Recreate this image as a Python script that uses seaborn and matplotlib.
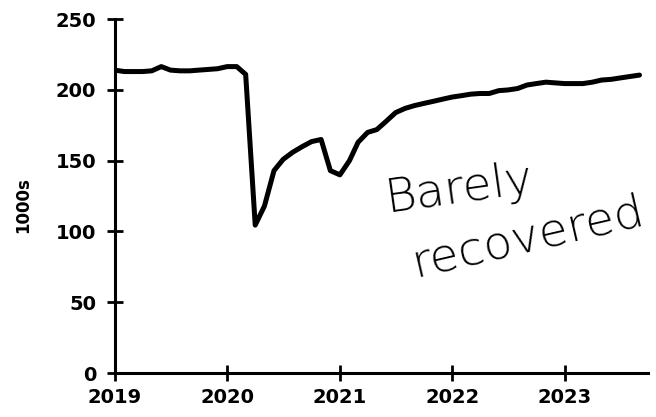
import matplotlib
matplotlib.use("Agg")
import matplotlib.pyplot as plt
import seaborn as sns
import pandas as pd

values = [
    214, 213, 213, 213, 213.5, 216.5, 214, 213.5, 213.5, 214, 214.5, 215,
    216.5, 216.5, 211, 104.5, 118, 143, 151, 156, 160, 163.5, 165, 143,
    140, 150, 163, 170, 172, 178, 184, 187, 189, 190.5, 192, 193.5,
    195, 196, 197, 197.5, 197.5, 199.5, 200, 201, 203.5, 204.5, 205.5, 205,
    204.5, 204.5, 204.5, 205.5, 207, 207.5, 208.5, 209.5, 210.5,
]
start_month = "2019-01-01"
year_ticks = ["2019", "2020", "2021", "2022", "2023"]
y_ticks = [0, 50, 100, 150, 200, 250]
y_label = "1000s"
note_1 = "Barely"
note_2 = "recovered"

dates = pd.date_range(start_month, periods=len(values), freq="MS")
df = pd.DataFrame({"date": dates, "value": values})

sns.set_theme(style="white")
plt.rcParams["font.family"] = ["DejaVu Sans"]
plt.rcParams["text.color"] = "black"
plt.rcParams["axes.labelcolor"] = "black"

fig = plt.figure(figsize=(6.56, 4.17), dpi=100)
ax = fig.add_axes([0.175, 0.1055, 0.813, 0.8485])

sns.lineplot(data=df, x="date", y="value", ax=ax, color="black", linewidth=3.6)

ax.set_ylim(0, 250)
ax.set_xlim(pd.Timestamp("2019-01-01"), pd.Timestamp("2023-09-29"))
ax.set_yticks(y_ticks)
ax.set_yticklabels([str(t) for t in y_ticks], fontsize=14, fontweight="bold")
ax.set_xticks([pd.Timestamp(y + "-01-01") for y in year_ticks])
ax.set_xticklabels(year_ticks, fontsize=14, fontweight="bold")
ax.set_xlabel("")
ax.set_ylabel(y_label, fontsize=12, fontweight="bold", color="black")
ax.yaxis.set_label_coords(-0.155, 0.475)

for s in ["top", "right"]:
    ax.spines[s].set_visible(False)
for s in ["left", "bottom"]:
    ax.spines[s].set_color("black")
    ax.spines[s].set_linewidth(2.2)
ax.tick_params(axis="both", direction="inout", length=11, width=2, color="black",
               labelcolor="black", left=True, bottom=True)
ax.tick_params(axis="x", pad=5)
ax.tick_params(axis="y", pad=8)

ax.text(0.645, 0.52, note_1, transform=ax.transAxes, fontsize=34,
        rotation=8, ha="center", va="center", color="black",
        family=["DejaVu Sans"], fontweight="light")
ax.text(0.775, 0.385, note_2, transform=ax.transAxes, fontsize=34,
        rotation=13, ha="center", va="center", color="black",
        family=["DejaVu Sans"], fontweight="light")

fig.savefig("out.png", dpi=100)
